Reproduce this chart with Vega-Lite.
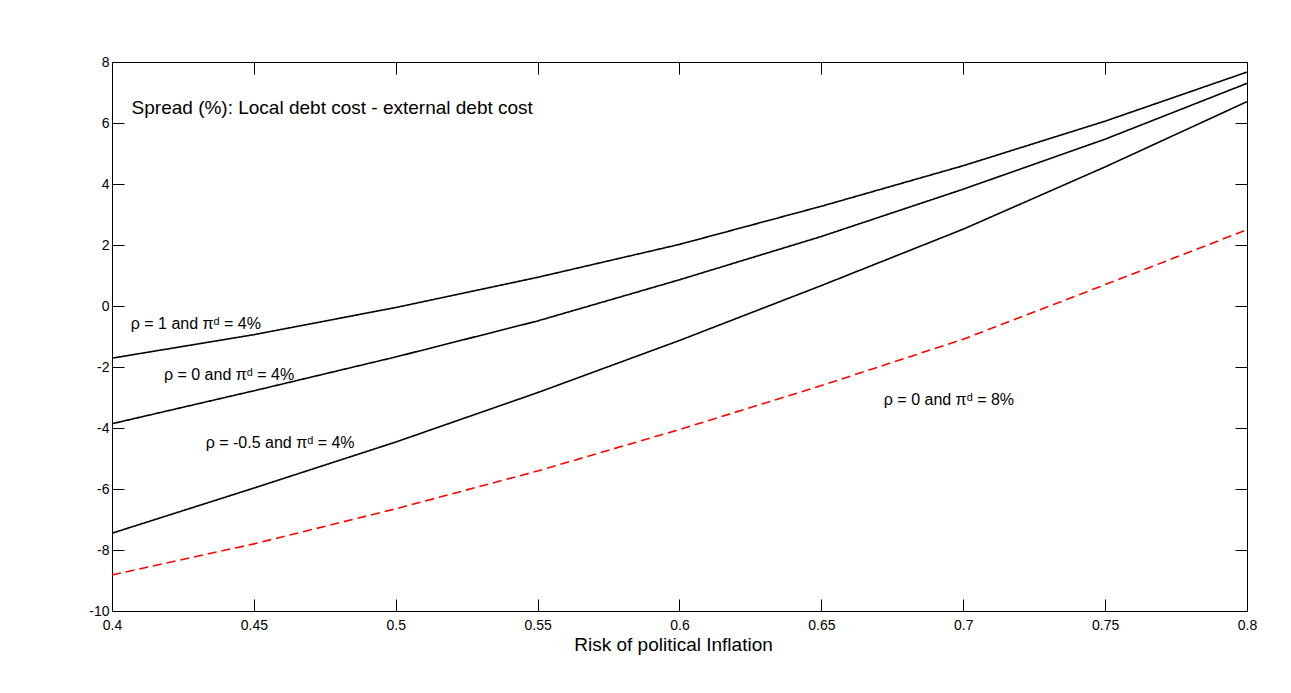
{
  "$schema": "https://vega.github.io/schema/vega-lite/v6.json",
  "width": 1135,
  "height": 549,
  "autosize": "none",
  "padding": {"left": 112, "top": 62, "right": 44, "bottom": 82},
  "background": "white",
  "config": {
    "view": {"stroke": null},
    "font": "Liberation Sans",
    "axis": {
      "grid": false,
      "domainColor": "black",
      "domainWidth": 1,
      "tickColor": "black",
      "tickWidth": 1,
      "tickSize": -12,
      "labelColor": "black",
      "labelFont": "Liberation Sans",
      "labelFontSize": 14,
      "labelFlush": false,
      "labelOverlap": false,
      "titleFont": "Liberation Sans",
      "titleFontSize": 19,
      "titleFontWeight": "normal",
      "titleColor": "black"
    },
    "axisX": {"labelPadding": 19, "titlePadding": 3},
    "axisY": {"labelPadding": 15}
  },
  "datasets": {
    "curves": [
      {"x": 0.4, "y": -1.71, "s": "a"},
      {"x": 0.45, "y": -0.94, "s": "a"},
      {"x": 0.5, "y": -0.05, "s": "a"},
      {"x": 0.55, "y": 0.94, "s": "a"},
      {"x": 0.6, "y": 2.02, "s": "a"},
      {"x": 0.65, "y": 3.27, "s": "a"},
      {"x": 0.7, "y": 4.6, "s": "a"},
      {"x": 0.75, "y": 6.06, "s": "a"},
      {"x": 0.8, "y": 7.67, "s": "a"},
      {"x": 0.4, "y": -3.86, "s": "b"},
      {"x": 0.45, "y": -2.78, "s": "b"},
      {"x": 0.5, "y": -1.67, "s": "b"},
      {"x": 0.55, "y": -0.49, "s": "b"},
      {"x": 0.6, "y": 0.86, "s": "b"},
      {"x": 0.65, "y": 2.28, "s": "b"},
      {"x": 0.7, "y": 3.83, "s": "b"},
      {"x": 0.75, "y": 5.47, "s": "b"},
      {"x": 0.8, "y": 7.3, "s": "b"},
      {"x": 0.4, "y": -7.45, "s": "c"},
      {"x": 0.45, "y": -5.97, "s": "c"},
      {"x": 0.5, "y": -4.46, "s": "c"},
      {"x": 0.55, "y": -2.84, "s": "c"},
      {"x": 0.6, "y": -1.13, "s": "c"},
      {"x": 0.65, "y": 0.67, "s": "c"},
      {"x": 0.7, "y": 2.52, "s": "c"},
      {"x": 0.75, "y": 4.56, "s": "c"},
      {"x": 0.8, "y": 6.7, "s": "c"},
      {"x": 0.4, "y": -8.82, "s": "d"},
      {"x": 0.45, "y": -7.8, "s": "d"},
      {"x": 0.5, "y": -6.65, "s": "d"},
      {"x": 0.55, "y": -5.41, "s": "d"},
      {"x": 0.6, "y": -4.05, "s": "d"},
      {"x": 0.65, "y": -2.61, "s": "d"},
      {"x": 0.7, "y": -1.09, "s": "d"},
      {"x": 0.75, "y": 0.7, "s": "d"},
      {"x": 0.8, "y": 2.5, "s": "d"}
    ],
    "labels": [
      {"x": 0.4066, "y": -0.75, "t": "ρ = 1 and πᵈ = 4%"},
      {"x": 0.4183, "y": -2.42, "t": "ρ = 0 and πᵈ = 4%"},
      {"x": 0.433, "y": -4.66, "t": "ρ = -0.5 and πᵈ = 4%"},
      {"x": 0.672, "y": -3.24, "t": "ρ = 0 and πᵈ = 8%"}
    ],
    "note": [
      {"x": 0.4069, "y": 6.28, "t": "Spread (%): Local debt cost - external debt cost"}
    ]
  },
  "layer": [
    {
      "data": {"name": "curves"},
      "mark": {"type": "line", "clip": true},
      "encoding": {
        "x": {
          "field": "x", "type": "quantitative",
          "scale": {"domain": [0.4, 0.8], "nice": false, "zero": false},
          "axis": {"orient": "bottom", "values": [0.4, 0.45, 0.5, 0.55, 0.6, 0.65, 0.7, 0.75, 0.8], "format": ".2~f", "title": "Risk of political Inflation", "titleX": 561}
        },
        "y": {
          "field": "y", "type": "quantitative",
          "scale": {"domain": [-10, 8], "nice": false, "zero": false},
          "axis": {"orient": "left", "values": [-10, -8, -6, -4, -2, 0, 2, 4, 6, 8], "format": "d", "labelExpr": "replace(datum.label, '−', '-')", "title": null}
        },
        "color": {"field": "s", "type": "nominal", "scale": {"domain": ["a", "b", "c", "d"], "range": ["#000000", "#000000", "#000000", "#ff0000"]}, "legend": null},
        "strokeDash": {"field": "s", "type": "nominal", "scale": {"domain": ["a", "b", "c", "d"], "range": [[1, 0], [1, 0], [1, 0], [9, 5]]}, "legend": null},
        "size": {"field": "s", "type": "ordinal", "scale": {"domain": ["a", "b", "c", "d"], "range": [1.6, 1.6, 1.6, 1]}, "legend": null}
      }
    },
    {
      "data": {"name": "labels"},
      "mark": {"type": "text", "align": "left", "baseline": "alphabetic", "fontSize": 16, "color": "black", "font": "Liberation Sans"},
      "encoding": {
        "x": {"field": "x", "type": "quantitative", "axis": {"orient": "top", "values": [0.4, 0.45, 0.5, 0.55, 0.6, 0.65, 0.7, 0.75, 0.8], "labels": false, "title": null}},
        "y": {"field": "y", "type": "quantitative", "axis": {"orient": "right", "values": [-10, -8, -6, -4, -2, 0, 2, 4, 6, 8], "labels": false, "title": null}},
        "text": {"field": "t", "type": "nominal"}
      }
    },
    {
      "data": {"name": "note"},
      "mark": {"type": "text", "align": "left", "baseline": "alphabetic", "fontSize": 19, "color": "black", "font": "Liberation Sans"},
      "encoding": {
        "x": {"field": "x", "type": "quantitative", "axis": null},
        "y": {"field": "y", "type": "quantitative", "axis": null},
        "text": {"field": "t", "type": "nominal"}
      }
    }
  ],
  "resolve": {"axis": {"x": "independent", "y": "independent"}}
}
